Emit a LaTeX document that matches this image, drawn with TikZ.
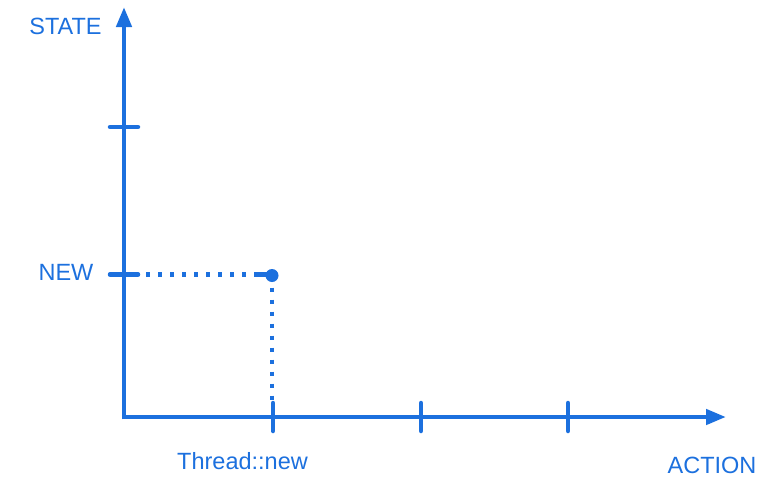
\documentclass[tikz,border=0pt]{standalone}
\usepackage{fontspec}
\setmainfont{Liberation Sans}
\usetikzlibrary{arrows.meta}
\definecolor{axblue}{RGB}{28,112,222}
\begin{document}
\begin{tikzpicture}[x=1pt,y=-1pt,
  axis/.style={draw=axblue,line width=4.5pt,-{Triangle[length=20pt,width=15pt]}},
  tickmark/.style={draw=axblue,line width=4.5pt,line cap=round},
  dots/.style={draw=axblue,line width=4.5pt,dash pattern=on 4pt off 8pt},
  lbl/.style={text=axblue,font=\fontsize{23.5}{28}\selectfont,inner sep=0pt}]
\useasboundingbox (0,0) rectangle (769,477);
\coordinate (O) at (124,417);
\coordinate (Ytop) at (124,7);
\coordinate (Xend) at (726,417);
\draw[axis] ([yshift=-2.25pt]O) -- (Ytop);
\draw[axis] ([xshift=-2.25pt]O) -- (Xend);
% y ticks
\coordinate (ty1a) at (110,127); \coordinate (ty1b) at (138,127);
\coordinate (ty2a) at (110,274.5); \coordinate (ty2b) at (138,274.5);
\draw[tickmark] (ty1a) -- (ty1b);
\draw[tickmark] (ty2a) -- (ty2b);
% x ticks
\coordinate (tx1a) at (273,403); \coordinate (tx1b) at (273,431);
\coordinate (tx2a) at (421,403); \coordinate (tx2b) at (421,431);
\coordinate (tx3a) at (568,403); \coordinate (tx3b) at (568,431);
\draw[tickmark] (tx1a) -- (tx1b);
\draw[tickmark] (tx2a) -- (tx2b);
\draw[tickmark] (tx3a) -- (tx3b);
% point
\node[circle,fill=axblue,inner sep=0pt,minimum size=13pt] (P) at (272,275.5) {};
\coordinate (hs) at (146,274.5);
\coordinate (hseg) at (256,274.5);
\coordinate (pe) at (268,274.5);
\coordinate (vend) at (272,402);
\draw[dots] (hs) -- (hseg);
\draw[tickmark,line cap=butt] (hseg) -- (pe);
\draw[dots] (P.center) -- (vend);
% labels
\node[lbl] (state) at (65.5,26) {STATE};
\node[lbl] (new) at (66,272) {NEW};
\node[lbl] (thread) at (242.5,461) {Thread::new};
\node[lbl] (action) at (712,465.5) {ACTION};
\end{tikzpicture}
\end{document}
